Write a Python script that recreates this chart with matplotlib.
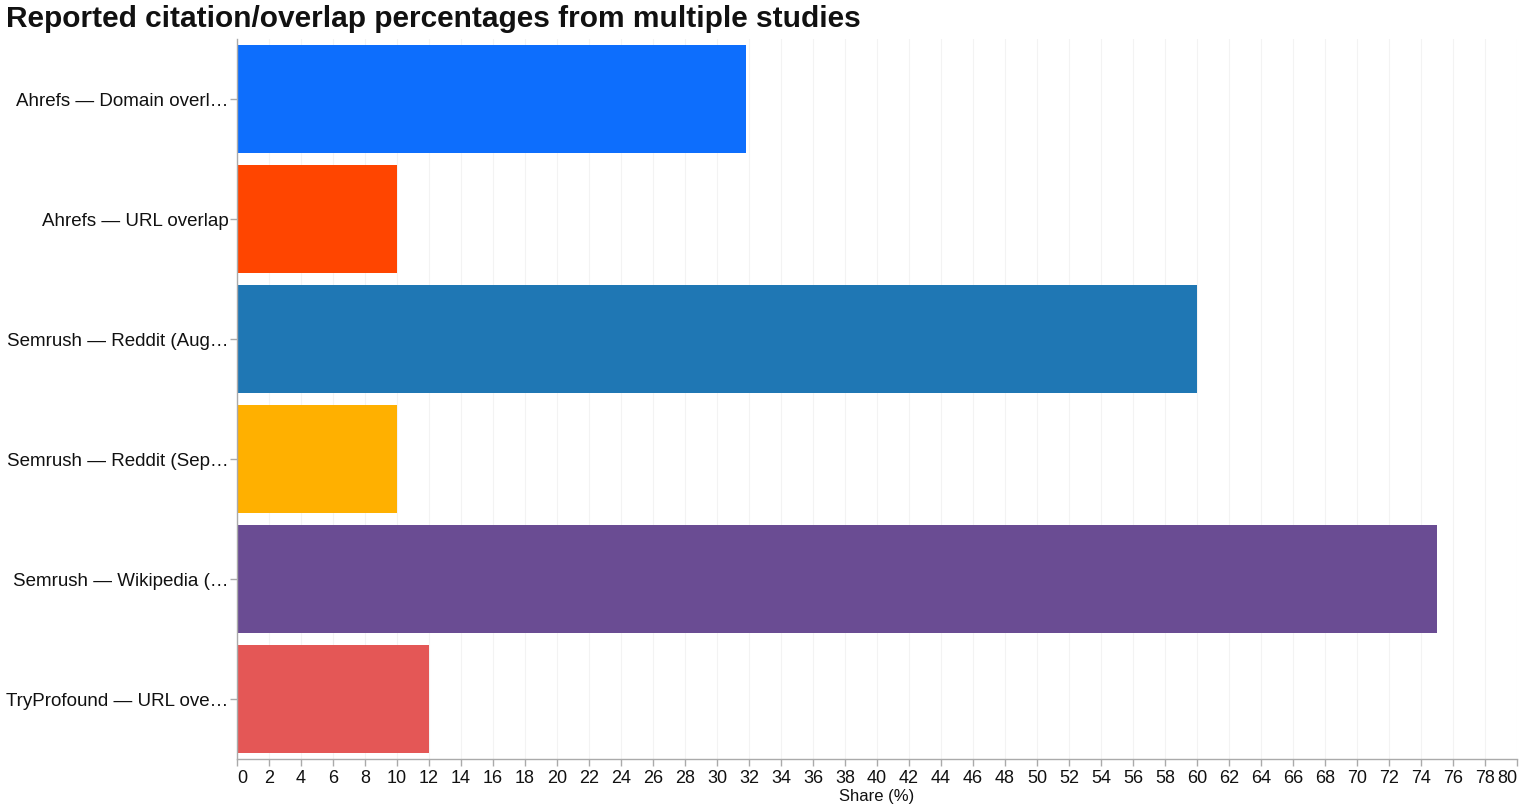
import matplotlib.pyplot as plt
import numpy as np

plt.rcParams['font.family'] = ['Liberation Sans', 'DejaVu Sans']

# data
labels = [
    "Ahrefs — Domain overl…",
    "Ahrefs — URL overlap",
    "Semrush — Reddit (Aug…",
    "Semrush — Reddit (Sep…",
    "Semrush — Wikipedia (…",
    "TryProfound — URL ove…",
]
shares = [31.8, 10, 60, 10, 75, 12]
colors = ["#0d6efd", "#ff4500", "#1f77b4", "#ffb000", "#6a4c93", "#e45756"]

W, H = 1523, 812
fig = plt.figure(figsize=(W / 100, H / 100), dpi=100)
ax = fig.add_axes([237 / W, 1 - 760 / H, (1517 - 237) / W, 720 / H])

y = np.arange(len(labels))
ax.barh(y, shares, height=0.9, color=colors, zorder=2)

ax.set_ylim(len(labels) - 0.5, -0.5)
ax.set_xlim(0, 80)
ax.set_yticks(y)
ax.set_yticklabels(labels, fontsize=13.5, color="#111111")

xt = np.arange(0, 81, 2)
ax.set_xticks(xt)
ax.set_xticklabels([str(v) for v in xt], fontsize=13, color="#111111")
tl = ax.get_xticklabels()
tl[0].set_horizontalalignment("left")
tl[-1].set_horizontalalignment("right")

ax.grid(axis="x", color="#f3f3f3", linewidth=0.8, zorder=0)
ax.set_axisbelow(True)

for s in ["top", "right"]:
    ax.spines[s].set_visible(False)
for s in ["left", "bottom"]:
    ax.spines[s].set_color("#aaaaaa")
    ax.spines[s].set_linewidth(1)
ax.tick_params(axis="both", color="#aaaaaa", length=5, width=1)
ax.tick_params(axis="x", pad=2)
ax.tick_params(axis="y", pad=1)

ax.set_xlabel("Share (%)", fontsize=12, color="#111111", labelpad=2)

fig.text(6 / W, 1 - 19 / H, "Reported citation/overlap percentages from multiple studies",
         fontsize=21.5, fontweight="bold", va="center", ha="left", color="#111111")

fig.savefig("out.png", dpi=100)
